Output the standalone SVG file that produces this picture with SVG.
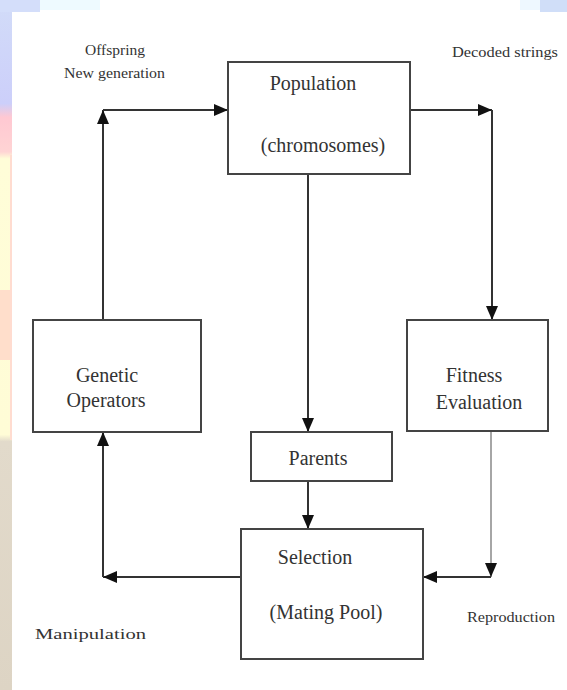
<svg xmlns="http://www.w3.org/2000/svg" width="567" height="690" viewBox="0 0 567 690">
<defs>
<style>
.box{fill:#fff;stroke:#444;stroke-width:2}
.lbl{font-family:"Liberation Serif","DejaVu Serif",serif;font-size:20px;fill:#333;text-anchor:middle}
.sm{font-family:"Liberation Serif","DejaVu Serif",serif;font-size:15px;fill:#333}
.ln{fill:none;stroke:#333;stroke-width:2}
.lt{fill:none;stroke:#888;stroke-width:1.5}
</style>
<marker id="ah" viewBox="0 0 14 12" refX="14" refY="6" markerWidth="14" markerHeight="12" markerUnits="userSpaceOnUse" orient="auto">
<path d="M0,0 L14,6 L0,12 Z" fill="#111"/>
</marker>
<linearGradient id="lstrip" x1="0" y1="0" x2="0" y2="1">
<stop offset="0" stop-color="#d2dcf8"/>
<stop offset="0.15" stop-color="#cccffa"/>
<stop offset="0.17" stop-color="#ffc8d2"/>
<stop offset="0.22" stop-color="#ffd4d4"/>
<stop offset="0.23" stop-color="#fffdd8"/>
<stop offset="0.63" stop-color="#fffcd6"/>
<stop offset="0.64" stop-color="#e2dacb"/>
<stop offset="1" stop-color="#ddd4c4"/>
</linearGradient>
</defs>
<rect x="0" y="0" width="567" height="690" fill="#fff"/>
<g id="background">
<rect x="0" y="0" width="12" height="690" fill="url(#lstrip)"/>
<rect x="0" y="290" width="10" height="70" fill="#ffd6c8" opacity="0.8"/>
<rect x="10" y="155" width="2" height="285" fill="#ffdcd0"/>
<rect x="0" y="0" width="40" height="12" fill="#d4defa"/>
<rect x="40" y="0" width="60" height="10" fill="#eefaff"/>
<rect x="540" y="0" width="27" height="12" fill="#d0def8"/>
<rect x="520" y="0" width="20" height="10" fill="#eef8ff"/>
</g>
<g id="connectors">
<path class="ln" d="M410,110 H492" marker-end="url(#ah)"/>
<path class="ln" d="M492,110 V320" marker-end="url(#ah)"/>
<path class="ln" d="M308,174 V432" marker-end="url(#ah)"/>
<path class="ln" d="M308,481 V529" marker-end="url(#ah)"/>
<path class="lt" d="M491,431 V577" marker-end="url(#ah)"/>
<path class="ln" d="M491,577 H423" marker-end="url(#ah)"/>
<path class="ln" d="M241,577 H103" marker-end="url(#ah)"/>
<path class="ln" d="M103,577 V432" marker-end="url(#ah)"/>
<path class="ln" d="M103,320 V110" marker-end="url(#ah)"/>
<path class="ln" d="M103,110 H228" marker-end="url(#ah)"/>
</g>
<g id="population">
<rect class="box" x="228" y="62" width="182" height="112"/>
<text class="lbl" x="313" y="90">Population</text>
<text class="lbl" x="323" y="152">(chromosomes)</text>
</g>
<g id="fitness">
<rect class="box" x="407" y="320" width="141" height="111"/>
<text class="lbl" x="474" y="382">Fitness</text>
<text class="lbl" x="479" y="409">Evaluation</text>
</g>
<g id="genetic">
<rect class="box" x="33" y="320" width="168" height="112"/>
<text class="lbl" x="107" y="382">Genetic</text>
<text class="lbl" x="106" y="407">Operators</text>
</g>
<g id="parents">
<rect class="box" x="251" y="432" width="141" height="49"/>
<text class="lbl" x="318" y="465">Parents</text>
</g>
<g id="selection">
<rect class="box" x="241" y="529" width="182" height="130"/>
<text class="lbl" x="315" y="564">Selection</text>
<text class="lbl" x="326" y="619">(Mating Pool)</text>
</g>
<g id="labels">
<text class="sm" x="85" y="55" textLength="60" lengthAdjust="spacingAndGlyphs">Offspring</text>
<text class="sm" x="64" y="78" textLength="101" lengthAdjust="spacingAndGlyphs">New generation</text>
<text class="sm" x="452" y="57" textLength="106" lengthAdjust="spacingAndGlyphs">Decoded strings</text>
<text class="sm" x="35" y="639" textLength="111" lengthAdjust="spacingAndGlyphs">Manipulation</text>
<text class="sm" x="467" y="622" textLength="88" lengthAdjust="spacingAndGlyphs">Reproduction</text>
</g>
</svg>
